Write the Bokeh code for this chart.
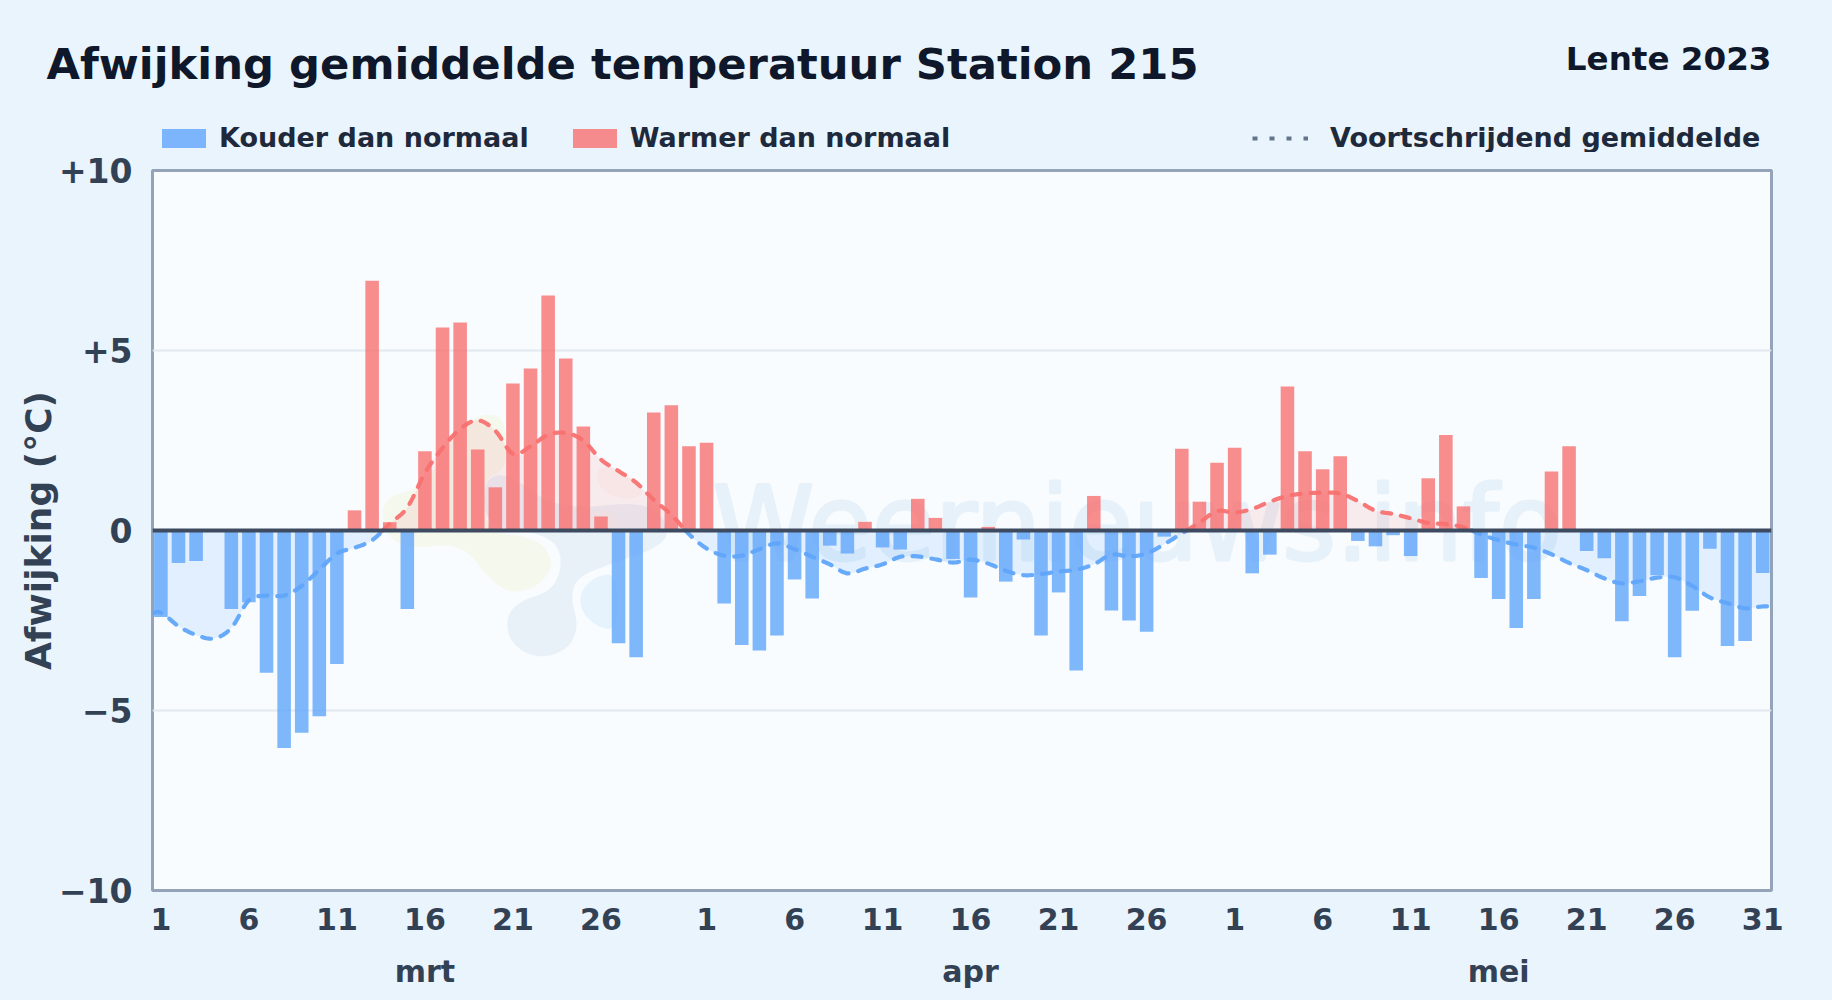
import numpy as np
from bokeh.plotting import figure
from bokeh.layouts import column
from bokeh.models import (Range1d, FixedTicker, LinearAxis, Span, Label, Legend, LegendItem)
from bokeh.embed import file_html
from bokeh.resources import INLINE

FONT = "DejaVu Sans"
months = ["mrt", "apr", "mei"]
month_lengths = [31, 30, 31]
month_days_labelled = [[1, 6, 11, 16, 21, 26], [1, 6, 11, 16, 21, 26], [1, 6, 11, 16, 21, 26, 31]]
bars_mrt = [-2.40, -0.90, -0.85, 0.0, -2.18, -1.99, -3.95, -6.04, -5.62, -5.16, -3.71, 0.56, 6.94, 0.23,
            -2.18, 2.20, 5.64, 5.78, 2.25, 1.20, 4.08, 4.50, 6.53, 4.78, 2.89, 0.39, -3.13, -3.52,
            3.28, 3.48, 2.34]
bars_apr = [2.44, -2.03, -3.18, -3.33, -2.92, -1.36, -1.89, -0.42, -0.64, 0.24, -0.47, -0.53, 0.88, 0.35,
            -0.79, -1.86, 0.10, -1.42, -0.25, -2.92, -1.72, -3.89, 0.96, -2.22, -2.50, -2.81, -0.17,
            2.27, 0.80, 1.88]
bars_mei = [2.30, -1.19, -0.67, 4.00, 2.20, 1.70, 2.06, -0.29, -0.44, -0.13, -0.71, 1.45, 2.65, 0.67,
            -1.32, -1.90, -2.71, -1.90, 1.64, 2.34, -0.57, -0.77, -2.52, -1.82, -1.24, -3.52, -2.23,
            -0.51, -3.21, -3.07, -1.18]
avg_mrt = [-2.29, -2.66, -2.90, -3.00, -2.71, -1.94, -1.81, -1.81, -1.54, -1.09, -0.64, -0.48, -0.27, 0.19,
           0.64, 1.60, 2.29, 2.82, 3.06, 2.77, 2.13, 2.34, 2.66, 2.71, 2.50, 1.97, 1.65, 1.33, 0.85, 0.44, -0.10]
avg_apr = [-0.50, -0.70, -0.70, -0.52, -0.36, -0.52, -0.73, -0.94, -1.19, -1.06, -0.94, -0.73, -0.72, -0.80,
           -0.89, -0.81, -0.92, -1.12, -1.24, -1.21, -1.14, -1.09, -0.94, -0.67, -0.72, -0.64, -0.38, -0.08,
           0.22, 0.54]
avg_mei = [0.50, 0.60, 0.80, 0.96, 1.03, 1.05, 1.03, 0.82, 0.55, 0.46, 0.34, 0.21, 0.18, 0.09,
           -0.11, -0.27, -0.39, -0.48, -0.66, -0.90, -1.10, -1.33, -1.47, -1.41, -1.31, -1.30, -1.54, -1.86,
           -2.02, -2.16, -2.11]
y_ticks = [-10, -5, 0, 5, 10]
y_labels = ["\u221210", "\u22125", "0", "+5", "+10"]
title_text = "Afwijking gemiddelde temperatuur Station 215"
season_text = "Lente 2023"
watermark_text = "Weernieuws.info"
legend_cold = "Kouder dan normaal"
legend_warm = "Warmer dan normaal"
legend_avg = "Voortschrijdend gemiddelde"

BG = "#e9f4fc"
BLUE = "#60a5fa"
RED = "#f87171"

values = np.array(bars_mrt + bars_apr + bars_mei)
avg = np.array(avg_mrt + avg_apr + avg_mei)
days = np.arange(len(values))

X0, X1 = -0.477, 91.50
HEAD_H = 152                        # height of the header strip with title and legends
FL, FT, FW, FH = 152, 18, 1619, 720  # frame of the chart inside its own figure
TOTAL_W, TOTAL_H = 1816, 984

p = figure(width=TOTAL_W, height=TOTAL_H - HEAD_H, frame_width=FW, frame_height=FH,
           x_range=Range1d(X0, X1), y_range=Range1d(-10, 10),
           output_backend="svg", toolbar_location=None,
           min_border_left=FL, min_border_right=TOTAL_W - FL - FW, min_border_top=FT,
           min_border_bottom=TOTAL_H - HEAD_H - FT - FH,
           background_fill_color="#f8fcff", border_fill_color=BG,
           outline_line_color="#94a3b8", outline_line_width=3)


def blob(points, color, alpha):
    """Faint background map of the watermark, given in crop pixels of the picture."""
    pts = np.array(points, float)
    for _ in range(3):
        a, b = pts, np.roll(pts, -1, axis=0)
        pts = np.empty((len(a) * 2, 2))
        pts[0::2] = 0.75 * a + 0.25 * b
        pts[1::2] = 0.25 * a + 0.75 * b
    page_x = 370 + pts[:, 0] / 3
    page_y = 400 + pts[:, 1] / 3
    dx = (page_x - FL) / FW * (X1 - X0) + X0
    dy = (530 - page_y) / 36
    p.patch(dx, dy, fill_color=color, fill_alpha=alpha, line_color=None, level="underlay")


blob([(340, 230), (420, 220), (560, 330), (830, 300), (900, 380), (870, 440), (720, 490), (620, 530),
      (600, 590), (625, 680), (590, 750), (500, 775), (420, 730), (405, 650), (450, 600), (550, 570),
      (580, 470), (530, 400), (340, 380)], "#dbe7f3", 0.55)
blob([(30, 330), (60, 285), (130, 270), (200, 200), (260, 90), (330, 40), (395, 45), (410, 130),
      (400, 215), (340, 230), (340, 395), (500, 410), (555, 490), (500, 560), (420, 580), (350, 530),
      (300, 460), (240, 430), (120, 445), (50, 410)], "#f2f6e6", 0.7)
blob([(630, 570), (680, 525), (740, 520), (740, 690), (680, 680), (630, 630)], "#e6f2fc", 1.0)
blob([(670, 200), (760, 200), (830, 280), (760, 300), (690, 270)], "#fce8e8", 0.3)
blob([(660, 335), (720, 325), (755, 385), (660, 385)], "#fce8e8", 0.3)

wm = Label(x=712, y=523 - HEAD_H, x_units="canvas", y_units="canvas", text=watermark_text,
           text_font=FONT, text_font_size="103px", text_color="#e7f1f9", text_outline_color="#e7f1f9",
           text_baseline="alphabetic", level="underlay")
p.add_layout(wm)


def smooth(x, y, n=12):
    """Catmull-Rom drawing curve through the read values; the values themselves stay as read."""
    px = np.concatenate(([x[0] - 1], x, [x[-1] + 1]))
    py = np.concatenate(([y[0]], y, [y[-1]]))
    xs, ys = [], []
    for i in range(1, len(px) - 2):
        for t in np.arange(n) / n:
            xs.append(px[i] + t * (px[i + 1] - px[i]))
            ys.append(0.5 * (2 * py[i] + (py[i + 1] - py[i - 1]) * t
                             + (2 * py[i - 1] - 5 * py[i] + 4 * py[i + 1] - py[i + 2]) * t ** 2
                             + (3 * py[i] - py[i - 1] - 3 * py[i + 1] + py[i + 2]) * t ** 3))
    xs.append(px[-2])
    ys.append(py[-2])
    return np.array(xs), np.array(ys)


line_x = np.concatenate(([X0], days, [X1]))
line_y = np.concatenate(([avg[0]], avg, [avg[-1]]))
cx, cy = smooth(line_x, line_y)

# add the zero crossings and split the curve by sign
fx, fy = [cx[0]], [cy[0]]
for i in range(1, len(cx)):
    if cy[i - 1] * cy[i] < 0:
        t = cy[i - 1] / (cy[i - 1] - cy[i])
        fx.append(cx[i - 1] + t * (cx[i] - cx[i - 1]))
        fy.append(0.0)
    fx.append(cx[i])
    fy.append(cy[i])
fx, fy = np.array(fx), np.array(fy)

segs = {1: ([], []), -1: ([], [])}
start = 0
for i in range(1, len(fx)):
    if fy[i] == 0.0 or i == len(fx) - 1:
        s = fy[start:i + 1]
        sign = 1 if s.sum() > 0 else -1
        segs[sign][0].append(fx[start:i + 1])
        segs[sign][1].append(s)
        start = i

p.varea(fx, y1=np.zeros_like(fy), y2=np.minimum(fy, 0), fill_color=BLUE, fill_alpha=0.15)
p.varea(fx, y1=np.zeros_like(fy), y2=np.maximum(fy, 0), fill_color=RED, fill_alpha=0.12)

neg = values < 0
pos = values > 0
p.vbar(x=days[neg], top=0, bottom=values[neg], width=0.77, fill_color=BLUE, fill_alpha=0.8, line_color=None)
p.vbar(x=days[pos], top=values[pos], bottom=0, width=0.77, fill_color=RED, fill_alpha=0.8, line_color=None)

p.multi_line(segs[-1][0], segs[-1][1], line_color=BLUE, line_width=4.2, line_alpha=0.95, line_dash="9 10", line_cap="round")
p.multi_line(segs[1][0], segs[1][1], line_color=RED, line_width=4.2, line_alpha=0.95, line_dash="9 10", line_cap="round")

p.add_layout(Span(location=0, dimension="width", line_color="#3d4a5f", line_width=4))

# axes
tick_pos, tick_lab = [], []
offset = 0
for n, labelled in zip(month_lengths, month_days_labelled):
    for d in labelled:
        tick_pos.append(offset + d - 1)
        tick_lab.append(str(d))
    offset += n
xa = p.xaxis[0]
xa.ticker = FixedTicker(ticks=tick_pos)
xa.major_label_overrides = dict(zip(tick_pos, tick_lab))
xa.major_label_text_font = FONT
xa.major_label_text_font_style = "bold"
xa.major_label_text_font_size = "30px"
xa.major_label_text_color = "#334155"
xa.major_label_standoff = 11
xa.axis_line_color = None
xa.major_tick_line_color = None
xa.minor_tick_line_color = None

month_pos = [15, 46, 76]
ma = LinearAxis(ticker=FixedTicker(ticks=month_pos),
                major_label_overrides=dict(zip(month_pos, months)),
                major_label_text_font=FONT, major_label_text_font_style="bold",
                major_label_text_font_size="30px", major_label_text_color="#334155",
                major_label_standoff=15, axis_line_color=None,
                major_tick_line_color=None, minor_tick_line_color=None)
p.add_layout(ma, "below")

ya = p.yaxis[0]
ya.ticker = FixedTicker(ticks=y_ticks)
ya.major_label_overrides = dict(zip(y_ticks, y_labels))
ya.major_label_text_font = FONT
ya.major_label_text_font_style = "bold"
ya.major_label_text_font_size = "33px"
ya.major_label_text_color = "#334155"
ya.major_label_standoff = 14
ya.axis_line_color = None
ya.major_tick_line_color = None
ya.minor_tick_line_color = None
ya.axis_label = "Afwijking (\u00b0C)"
ya.axis_label_text_font = FONT
ya.axis_label_text_font_style = "bold"
ya.axis_label_text_font_size = "36px"
ya.axis_label_text_color = "#334155"
ya.axis_label_standoff = -3

p.xgrid.visible = False
p.ygrid.ticker = FixedTicker(ticks=[-5, 5])
p.ygrid.grid_line_color = "#e2e8f0"
p.ygrid.grid_line_width = 2

# header strip: a figure whose frame fills it, so nothing in it is clipped
head = figure(width=TOTAL_W, height=HEAD_H, frame_width=TOTAL_W, frame_height=HEAD_H,
              x_range=Range1d(0, 1), y_range=Range1d(0, 1),
              x_axis_type=None, y_axis_type=None, output_backend="svg", toolbar_location=None,
              min_border=0, background_fill_color=BG, border_fill_color=BG, outline_line_color=None)
head.grid.visible = False
for f in (head, p):
    if "frame_align" in f.properties():
        f.frame_align = False
nan2 = [float("nan")] * 2
r_cold = head.vbar(x=nan2, top=nan2, bottom=nan2, width=0.5, fill_color=BLUE, fill_alpha=0.8, line_color=None)
r_warm = head.vbar(x=nan2, top=nan2, bottom=nan2, width=0.5, fill_color=RED, fill_alpha=0.8, line_color=None)
r_avg = head.line(x=nan2, y=nan2, line_color="#64748b", line_width=4, line_dash="5 12")

for items, loc, gw, gh, st in [
    ([LegendItem(label=legend_cold, renderers=[r_cold]),
      LegendItem(label=legend_warm, renderers=[r_warm])], (156, -1), 55, 24, 8),
    ([LegendItem(label=legend_avg, renderers=[r_avg])], (1252, -1), 56, 24, 22),
]:
    lg = Legend(items=items, orientation="horizontal", location=loc, margin=0, padding=0,
                spacing=38, glyph_width=gw, glyph_height=gh, label_standoff=st,
                label_height=24, background_fill_alpha=0, border_line_color=None,
                label_text_font=FONT, label_text_font_style="bold",
                label_text_font_size="27px", label_text_color="#1e293b")
    head.add_layout(lg)

head.add_layout(Label(x=46, y=63, x_units="canvas", y_units="canvas", text=title_text,
                      text_font=FONT, text_font_style="bold", text_font_size="43.3px",
                      text_color="#0f172a", text_baseline="alphabetic"))
head.add_layout(Label(x=1771, y=58.5, x_units="canvas", y_units="canvas", text=season_text,
                      text_font=FONT, text_font_style="bold", text_font_size="32.6px",
                      text_color="#0f172a", text_align="right", text_baseline="alphabetic"))

html = file_html(column(head, p, spacing=0), INLINE)
html = html.replace("<head>", "<head><style>html,body{background:%s}</style>" % BG, 1)
open("out.html", "w").write(html)
